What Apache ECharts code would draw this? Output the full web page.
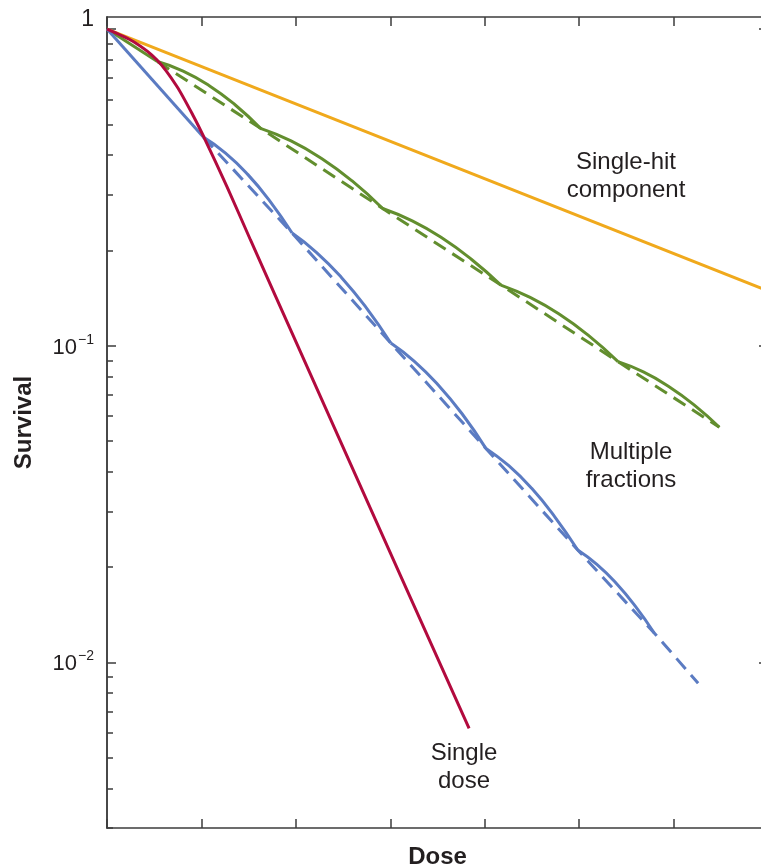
<!DOCTYPE html>
<html><head><meta charset="utf-8">
<script src="https://cdn.jsdelivr.net/npm/echarts@6/dist/echarts.min.js"></script>
<style>html,body{margin:0;padding:0;background:#fff}#c{width:761px;height:868px}</style>
</head><body><div id="c"></div>
<script>
// ---- data (dose in arbitrary units, survival fraction) ----
const xTickInterval = 2;
const yLabelValues = [0.01, 0.1, 1];
const yMajorTicks = [0.01, 0.1, 1];
const yMinorTicks = [0.003,0.004,0.005,0.006,0.007,0.008,0.009,
                     0.02,0.03,0.04,0.05,0.06,0.07,0.08,0.09,
                     0.2,0.3,0.4,0.5,0.6,0.7,0.8,0.9];

const orangeDose = [0, 14];
const orangeSurv = [1, 0.149];

const redDose = [0, 0.564, 1.06, 1.485, 1.837, 2.049, 2.545, 3.039, 4.10, 5.16, 6.221, 7.669];
const redSurv = [1, 0.9125, 0.799, 0.6577, 0.5289, 0.4571, 0.3171, 0.2158, 0.0955, 0.0423, 0.01874, 0.00619];

const blueLineDose = [0, 2.04];
const blueLineSurv = [1, 0.456];
const blueDashDose = [2.04, 3.92, 6.01, 8.02, 9.97, 11.59, 12.52];
const blueDashSurv = [0.456, 0.227, 0.102, 0.0475, 0.02265, 0.01239, 0.0086];
const blueScallopDose = [
  [2.04, 2.51, 2.98, 3.45, 3.92],
  [3.92, 4.44, 4.965, 5.49, 6.01],
  [6.01, 6.51, 7.015, 7.52, 8.02],
  [8.02, 8.51, 8.995, 9.48, 9.97],
  [9.97, 10.375, 10.78, 11.185, 11.59]
];
const blueScallopSurv = [
  [0.456, 0.406, 0.3477, 0.2864, 0.227],
  [0.227, 0.197, 0.1644, 0.132, 0.102],
  [0.102, 0.0893, 0.0752, 0.061, 0.0475],
  [0.0475, 0.0418, 0.03546, 0.02889, 0.02265],
  [0.02265, 0.0204, 0.01782, 0.01509, 0.01239]
];

const greenLineDose = [0, 1.067];
const greenLineSurv = [1, 0.790];
const greenDashDose = [1.067, 3.251, 5.839, 8.342, 10.823, 12.97];
const greenDashSurv = [0.790, 0.486, 0.2713, 0.1555, 0.0891, 0.0553];
const greenScallopDose = [
  [1.067, 1.613, 2.159, 2.705, 3.251],
  [3.251, 3.898, 4.545, 5.192, 5.839],
  [5.839, 6.465, 7.09, 7.716, 8.342],
  [8.342, 8.962, 9.583, 10.203, 10.823],
  [10.823, 11.36, 11.897, 12.434, 12.97]
];
const greenScallopSurv = [
  [0.79, 0.737, 0.664, 0.578, 0.486],
  [0.486, 0.4437, 0.3904, 0.3315, 0.2713],
  [0.2713, 0.2479, 0.2193, 0.1876, 0.1555],
  [0.1555, 0.1421, 0.1257, 0.1076, 0.0891],
  [0.0891, 0.0827, 0.0744, 0.0651, 0.0553]
];

const labels = [
  {text: 'Single-hit\ncomponent', x: 626, y: 176},
  {text: 'Multiple\nfractions', x: 631, y: 466},
  {text: 'Single\ndose', x: 464, y: 767}
];

// ---- styles ----
const FONT = 'Liberation Sans';
const C_ORANGE = '#F0A91C', C_GREEN = '#628E2E', C_BLUE = '#5B7BC2', C_RED = '#B20A3E';
const AX = '#3c3c3c';
const LW = 3;
const DASH = [14, 8];

const pairs = (xs, ys) => xs.map((x, i) => [x, ys[i]]);
function lineSeries(name, data, color, dashed, smooth) {
  return {
    type: 'line', name, data, showSymbol: false, symbol: 'none',
    smooth: smooth || false, clip: false,
    lineStyle: {color, width: LW, type: dashed ? DASH : 'solid', cap: 'butt'},
    emphasis: {disabled: true}, z: 2
  };
}

const series = [];
series.push(lineSeries('orange', pairs(orangeDose, orangeSurv), C_ORANGE));
series.push(lineSeries('greenLine', pairs(greenLineDose, greenLineSurv), C_GREEN));
series.push(lineSeries('greenDash', pairs(greenDashDose, greenDashSurv), C_GREEN, true));
greenScallopDose.forEach((d, i) => series.push(lineSeries('greenS' + i, pairs(d, greenScallopSurv[i]), C_GREEN, false, 0.5)));
series.push(lineSeries('blueLine', pairs(blueLineDose, blueLineSurv), C_BLUE));
series.push(lineSeries('blueDash', pairs(blueDashDose, blueDashSurv), C_BLUE, true));
blueScallopDose.forEach((d, i) => series.push(lineSeries('blueS' + i, pairs(d, blueScallopSurv[i]), C_BLUE, false, 0.5)));
series.push(lineSeries('red', pairs(redDose, redSurv), C_RED, false, 0.25));

const yBase = {
  type: 'log', logBase: 10, min: 0.003, max: 1.092,
  splitLine: {show: false},
  axisLine: {show: true, lineStyle: {color: AX, width: 1.5}},
  axisLabel: {show: false}
};
const xBase = {
  type: 'value', min: 0, max: 14, interval: xTickInterval,
  splitLine: {show: false},
  axisLine: {show: true, onZero: false, lineStyle: {color: AX, width: 1.5}},
  axisTick: {show: true, inside: true, length: 9, lineStyle: {color: AX, width: 1.5}},
  axisLabel: {show: false}
};

const chart = echarts.init(document.getElementById('c'), null, {renderer: 'canvas'});
chart.setOption({
  animation: false,
  backgroundColor: '#fff',
  grid: {left: 107, top: 17, width: 661, height: 811, containLabel: false, outerBoundsMode: 'none'},
  xAxis: [
    Object.assign({}, xBase, {position: 'bottom', name: 'Dose', nameLocation: 'middle', nameGap: 17,
      nameTextStyle: {fontFamily: FONT, fontSize: 24, fontWeight: 'bold', color: '#231f20', verticalAlign: 'top'}}),
    Object.assign({}, xBase, {position: 'top'})
  ],
  yAxis: [
    Object.assign({}, yBase, {position: 'left', name: 'Survival', nameLocation: 'middle', nameGap: 71,
      nameTextStyle: {fontFamily: FONT, fontSize: 24, fontWeight: 'bold', color: '#231f20'},
      axisTick: {show: true, inside: true, length: 6, customValues: yMinorTicks, lineStyle: {color: AX, width: 1.5}},
      axisLabel: {show: true, customValues: yLabelValues, margin: 13, color: '#231f20', fontFamily: FONT,
        formatter: function (v) {
          if (Math.abs(v - 1) < 1e-9) return '{one|1}';
          const e = Math.round(Math.log10(v));
          return '{b|10}{s|\u2212' + (-e) + '}';
        },
        rich: {
          one: {fontSize: 23, fontFamily: FONT, color: '#231f20', lineHeight: 26, padding: [0, 0, 18, 0]},
          b: {fontSize: 22, fontFamily: FONT, color: '#231f20', lineHeight: 26, verticalAlign: 'bottom'},
          s: {fontSize: 14, fontFamily: FONT, color: '#231f20', lineHeight: 16, padding: [0, 0, 12, 1], verticalAlign: 'bottom'}
        }
      }}),
    Object.assign({}, yBase, {position: 'left',
      axisTick: {show: true, inside: true, length: 9, customValues: yMajorTicks, lineStyle: {color: AX, width: 1.5}}}),
    Object.assign({}, yBase, {position: 'right',
      axisTick: {show: true, inside: true, length: 5, customValues: yMinorTicks, lineStyle: {color: AX, width: 1.5}}}),
    Object.assign({}, yBase, {position: 'right',
      axisTick: {show: true, inside: true, length: 9, customValues: yMajorTicks, lineStyle: {color: AX, width: 1.5}}})
  ],
  series: series,
  graphic: labels.map(l => ({
    type: 'text', x: l.x, y: l.y, z: 10,
    style: {text: l.text, fontFamily: FONT, fontSize: 24, lineHeight: 28, fill: '#231f20',
      textAlign: 'center', textVerticalAlign: 'middle', align: 'center', verticalAlign: 'middle'}
  }))
});
</script>
</body></html>
